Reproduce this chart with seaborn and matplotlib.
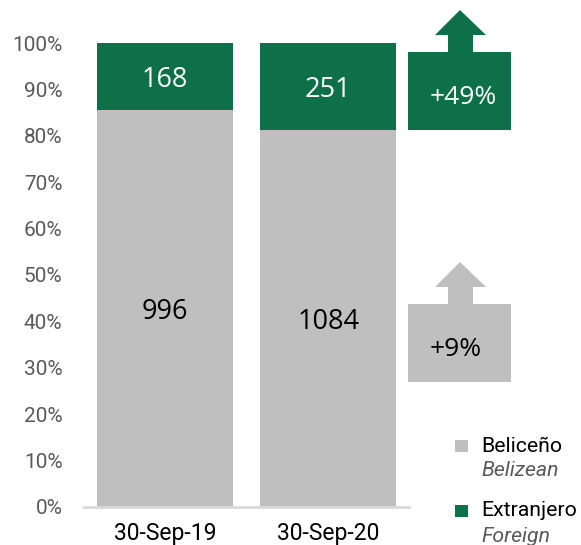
import matplotlib
matplotlib.use("Agg")
import matplotlib.pyplot as plt
import seaborn as sns
import pandas as pd
from matplotlib.patches import Rectangle, Polygon
from matplotlib.ticker import PercentFormatter

categories = ["30-Sep-19", "30-Sep-20"]
belizean = [996, 1084]
foreign = [168, 251]
series_es = ["Beliceño", "Extranjero"]
series_en = ["Belizean", "Foreign"]
growth_labels = ["+9%", "+49%"]

GRAY = "#BFBFBF"
GREEN = "#0E7048"

sns.set_theme(style="white")
plt.rcParams["font.family"] = ["Roboto", "DejaVu Sans"]

W, H = 581, 545
fig = plt.figure(figsize=(W / 100, H / 100), dpi=100)

def fx(px):
    return px / W

def fy(py):
    return 1 - py / H

ax = fig.add_axes([fx(84), fy(507), fx(409) - fx(84), fy(43) - fy(507)])

totals = [b + f for b, f in zip(belizean, foreign)]
df = pd.DataFrame({
    "cat": categories,
    "total": [1.0 for _ in totals],
    "bel": [b / t for b, t in zip(belizean, totals)],
})

sns.barplot(data=df, x="cat", y="total", color=GREEN, width=0.83,
            saturation=1, ax=ax, linewidth=0)
sns.barplot(data=df, x="cat", y="bel", color=GRAY, width=0.83,
            saturation=1, ax=ax, linewidth=0)

ax.set_xlim(-0.494, 1.494)
ax.set_ylim(0, 1.0)
ax.set_yticks([i / 10 for i in range(11)])
ax.yaxis.set_major_formatter(PercentFormatter(1.0, decimals=0))
ax.set_xlabel("")
ax.set_ylabel("")
for s in ["left", "right", "top"]:
    ax.spines[s].set_visible(False)
ax.spines["bottom"].set_color("#D9D9D9")
ax.spines["bottom"].set_linewidth(2)
ax.tick_params(axis="y", length=0, pad=15.5, labelsize=15, labelcolor="#595959")
ax.tick_params(axis="x", length=0, pad=11, labelsize=16.5, labelcolor="#000000")

# value labels
for i, (b, f, t) in enumerate(zip(belizean, foreign, totals)):
    pb = b / t
    ax.text(i, pb / 2, str(b), ha="center", va="center_baseline", fontsize=19.5,
            family=["Open Sans", "DejaVu Sans"], color="black")
    ax.text(i, pb + (1 - pb) / 2, str(f), ha="center", va="center_baseline", fontsize=19.5,
            family=["Open Sans", "DejaVu Sans"], color="white")

# callouts with arrows
def callout(top_box, bottom_box, tip_y, head_base_y, color, label, tcolor, tx):
    fig.add_artist(Rectangle((fx(408), fy(bottom_box)), fx(511) - fx(408),
                             fy(top_box) - fy(bottom_box), transform=fig.transFigure,
                             facecolor=color, edgecolor="none"))
    pts = [(448, top_box), (448, head_base_y), (435, head_base_y), (460, tip_y),
           (486, head_base_y), (473, head_base_y), (473, top_box)]
    fig.add_artist(Polygon([(fx(x), fy(y)) for x, y in pts], closed=True,
                           transform=fig.transFigure, facecolor=color, edgecolor="none"))
    fig.text(fx(tx), fy((top_box + bottom_box) / 2 + 6), label, ha="center", va="center",
             fontsize=19, color=tcolor, family=["Open Sans", "DejaVu Sans"])

callout(52, 130, 10, 35, GREEN, growth_labels[1], "white", 463)
callout(304, 382, 262, 287, GRAY, growth_labels[0], "black", 456)

# legend
for (yc, col, es, en) in [(446, GRAY, series_es[0], series_en[0]),
                          (511, GREEN, series_es[1], series_en[1])]:
    fig.add_artist(Rectangle((fx(455), fy(yc + 6)), fx(468) - fx(455), fy(yc - 6) - fy(yc + 6),
                             transform=fig.transFigure, facecolor=col, edgecolor="none"))
    fig.text(fx(481), fy(yc), es, ha="left", va="center", fontsize=15.3, color="black")
    fig.text(fx(481), fy(yc + 25), en, ha="left", va="center", fontsize=15.3,
             color="#595959", style="italic")

fig.savefig("out.png", dpi=100)
